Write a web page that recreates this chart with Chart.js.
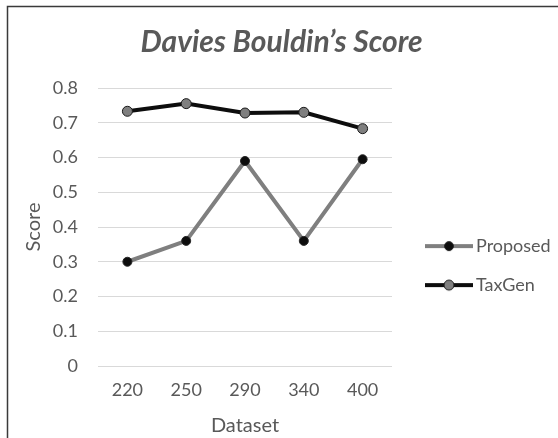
<!DOCTYPE html>
<html>
<head>
<meta charset="utf-8">
<script src="https://cdn.jsdelivr.net/npm/chart.js@4.4.1/dist/chart.umd.min.js"></script>
<style>
  html, body { margin: 0; padding: 0; background: #fff; }
</style>
</head>
<body>
<canvas id="chart" width="558" height="438"></canvas>
<script>
// ===== Data =====
const datasetSizes = ["220", "250", "290", "340", "400"];
const proposedScores = [0.30, 0.36, 0.59, 0.36, 0.595];
const taxGenScores = [0.733, 0.755, 0.728, 0.73, 0.683];

const textColor = "#595959";
const font = "Lato";

// little line + dot image used as the legend marker
function legendMark(lineColor, dotFill, dotStroke, r) {
  const c = document.createElement("canvas");
  c.width = 66;
  c.height = 14;
  const g = c.getContext("2d");
  g.strokeStyle = lineColor;
  g.lineWidth = 4;
  g.beginPath();
  g.moveTo(18, 7);
  g.lineTo(66, 7);
  g.stroke();
  g.fillStyle = dotFill;
  g.strokeStyle = dotStroke;
  g.lineWidth = 1;
  g.beginPath();
  g.arc(42, 7, r, 0, Math.PI * 2);
  g.fill();
  g.stroke();
  return c;
}

// white background + frame
const framePlugin = {
  id: "frame",
  beforeDraw(chart) {
    const ctx = chart.ctx;
    ctx.save();
    ctx.fillStyle = "#fff";
    ctx.fillRect(0, 0, chart.width, chart.height);
    ctx.strokeStyle = "#3a3a3a";
    ctx.lineWidth = 1.5;
    ctx.strokeRect(7.5, 6.5, 700, 600);
    ctx.restore();
  },
};

const ctx = document.getElementById("chart");
const chart = new Chart(ctx, {
  type: "line",
  data: {
    labels: datasetSizes,
    datasets: [
      {
        label: "Proposed",
        data: proposedScores,
        borderColor: "#7f7f7f",
        borderWidth: 4,
        pointRadius: 4.5,
        pointBackgroundColor: "#0d0d0d",
        pointBorderColor: "#262626",
        pointBorderWidth: 1,
        tension: 0,
      },
      {
        label: "TaxGen",
        data: taxGenScores,
        borderColor: "#0d0d0d",
        borderWidth: 4,
        pointRadius: 5,
        pointBackgroundColor: "#7f7f7f",
        pointBorderColor: "#1a1a1a",
        pointBorderWidth: 1,
        tension: 0,
      },
    ],
  },
  options: {
    responsive: false,
    animation: false,
    layout: { padding: { left: 5, right: 0, top: 0, bottom: 0 } },
    plugins: {
      title: {
        display: true,
        text: "Davies Bouldin\u2019s Score",
        color: textColor,
        font: { family: font, size: 30, weight: "bold", style: "italic" },
        padding: { top: 24, bottom: 28 },
      },
      legend: {
        position: "right",
        maxWidth: 166,
        title: { display: true, text: "", font: { size: 1 }, padding: { top: 92, bottom: 0 } },
        labels: {
          usePointStyle: true,
          pointStyleWidth: 54,
          padding: 21,
          color: textColor,
          font: { family: font, size: 18 },
          generateLabels: (c) =>
            c.data.datasets.map((ds, i) => ({
              text: ds.label,
              datasetIndex: i,
              fontColor: textColor,
              pointStyle: legendMark(ds.borderColor, ds.pointBackgroundColor, ds.pointBorderColor, ds.pointRadius),
              hidden: false,
              lineWidth: 0,
            })),
        },
      },
      tooltip: { enabled: false },
    },
    scales: {
      x: {
        offset: true,
        grid: { display: false, drawTicks: false, offset: true },
        border: { display: false },
        ticks: { color: textColor, font: { family: font, size: 18 }, padding: 13 },
        title: {
          display: true,
          text: "Dataset",
          color: textColor,
          font: { family: font, size: 20 },
          padding: { top: 0, bottom: 0 },
        },
        afterFit: (scale) => { scale.height = 72; },
      },
      y: {
        min: 0,
        max: 0.8,
        grid: { color: "#d9d9d9", lineWidth: 1, drawTicks: false },
        border: { display: false },
        ticks: {
          stepSize: 0.1,
          color: textColor,
          font: { family: font, size: 18 },
          padding: 20,
          callback: (v) => (v === 0 ? "0" : v.toFixed(1)),
        },
        title: {
          display: true,
          text: "Score",
          color: textColor,
          font: { family: font, size: 20 },
          padding: { top: 17, bottom: 0 },
        },
        afterFit: (scale) => { scale.width = 93; },
      },
    },
  },
  plugins: [framePlugin],
});
</script>
</body>
</html>
